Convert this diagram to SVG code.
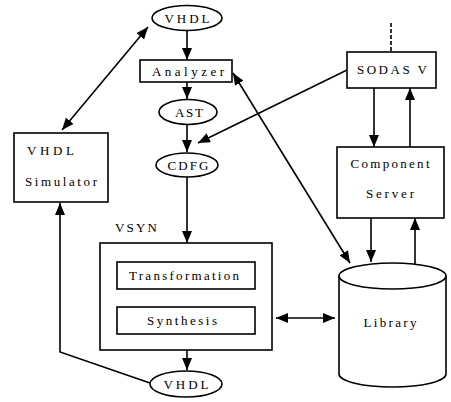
<svg xmlns="http://www.w3.org/2000/svg" width="451" height="402" viewBox="0 0 451 402">
<style>
.s{fill:#fff;stroke:#000;stroke-width:1.6}
.t{font-family:"Liberation Serif","DejaVu Serif",serif;font-size:13px;fill:#000}
.c{text-anchor:middle}
.l{fill:none;stroke:#000;stroke-width:1.6}
</style>
<defs>
<marker id="a" viewBox="0 0 12 10" refX="12" refY="5" markerWidth="12" markerHeight="10" markerUnits="userSpaceOnUse" orient="auto-start-reverse"><path d="M0,0L12,5L0,10z" fill="#000"/></marker>
</defs>
<rect width="451" height="402" fill="#fff"/>
<g id="connectors">
<line class="l" x1="187" y1="30" x2="187" y2="60" marker-end="url(#a)"/>
<line class="l" x1="187" y1="82" x2="187" y2="99" marker-end="url(#a)"/>
<line class="l" x1="187" y1="125" x2="187" y2="152" marker-end="url(#a)"/>
<line class="l" x1="187" y1="177" x2="187" y2="243" marker-end="url(#a)"/>
<line class="l" x1="187" y1="350" x2="187" y2="370" marker-end="url(#a)"/>
<polyline class="l" points="150,383 60,352 60,203" marker-end="url(#a)"/>
<line class="l" x1="62" y1="130" x2="148" y2="27" marker-start="url(#a)" marker-end="url(#a)"/>
<line class="l" x1="347" y1="70" x2="198" y2="143" marker-end="url(#a)"/>
<line class="l" x1="233" y1="73" x2="350" y2="263" marker-start="url(#a)" marker-end="url(#a)"/>
<line class="l" x1="391" y1="23" x2="391" y2="52" stroke-dasharray="4,2"/>
<line class="l" x1="374" y1="88" x2="374" y2="147" marker-end="url(#a)"/>
<line class="l" x1="410" y1="147" x2="410" y2="88" marker-end="url(#a)"/>
<line class="l" x1="371" y1="218" x2="371" y2="262" marker-end="url(#a)"/>
<line class="l" x1="415" y1="266" x2="415" y2="218" marker-end="url(#a)"/>
<line class="l" x1="276" y1="318" x2="335" y2="318" marker-start="url(#a)" marker-end="url(#a)"/>
</g>
<g id="vhdl-top"><ellipse class="s" cx="187" cy="18" rx="35" ry="12.5"/><text class="t c" x="187" y="23" textLength="45" lengthAdjust="spacing">VHDL</text></g>
<g id="analyzer"><rect class="s" x="140" y="60" width="92" height="22"/><text class="t c" x="188" y="76" textLength="72" lengthAdjust="spacing">Analyzer</text></g>
<g id="ast"><ellipse class="s" cx="188" cy="112" rx="29" ry="12.5"/><text class="t c" x="189" y="117" textLength="28" lengthAdjust="spacing">AST</text></g>
<g id="cdfg"><ellipse class="s" cx="187" cy="165" rx="31" ry="12"/><text class="t c" x="188" y="170" textLength="41" lengthAdjust="spacing">CDFG</text></g>
<g id="simulator"><rect class="s" x="14" y="133" width="94" height="69"/><text class="t" x="27" y="155" textLength="47" lengthAdjust="spacing">VHDL</text><text class="t" x="25" y="186" textLength="72" lengthAdjust="spacing">Simulator</text></g>
<g id="vsyn"><text class="t" x="115" y="232" textLength="42" lengthAdjust="spacing">VSYN</text><rect class="s" x="100" y="243" width="172" height="107"/>
<rect class="s" x="117" y="262" width="138" height="27"/><text class="t c" x="184" y="280" textLength="110" lengthAdjust="spacing">Transformation</text>
<rect class="s" x="117" y="307" width="138" height="27"/><text class="t c" x="182" y="325" textLength="70" lengthAdjust="spacing">Synthesis</text></g>
<g id="vhdl-bottom"><ellipse class="s" cx="186" cy="384" rx="36" ry="13"/><text class="t c" x="186" y="389" textLength="45" lengthAdjust="spacing">VHDL</text></g>
<g id="sodas"><rect class="s" x="347" y="52" width="89" height="36"/><text class="t c" x="392" y="74" textLength="70" lengthAdjust="spacing">SODAS V</text></g>
<g id="component"><rect class="s" x="337" y="147" width="107" height="71"/><text class="t c" x="390" y="168" textLength="79" lengthAdjust="spacing">Component</text><text class="t c" x="390" y="198" textLength="48" lengthAdjust="spacing">Server</text></g>
<g id="library"><path class="s" d="M339,276 L339,374 A53.5,13 0 0 0 446,374 L446,276"/><ellipse class="s" cx="392.5" cy="276" rx="53.5" ry="13"/><text class="t c" x="390" y="327" textLength="53" lengthAdjust="spacing">Library</text></g>
</svg>
